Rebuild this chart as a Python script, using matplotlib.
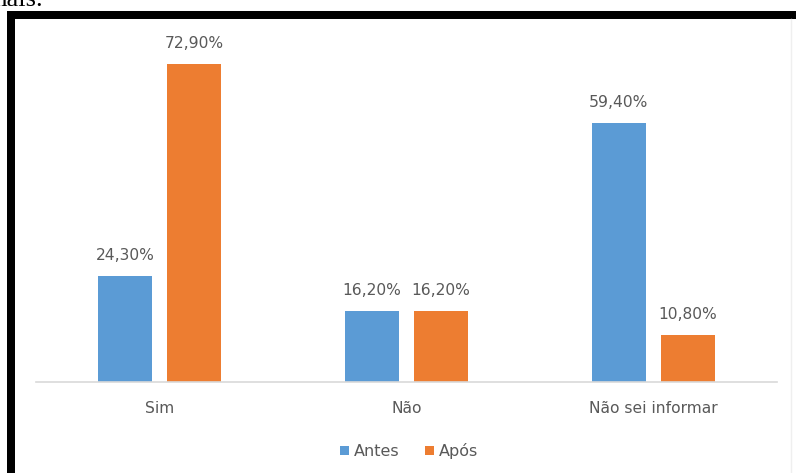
import matplotlib
matplotlib.use("Agg")
import matplotlib.pyplot as plt
from matplotlib.patches import Rectangle
import numpy as np

categories = ["Sim", "Não", "Não sei informar"]
antes = [24.3, 16.2, 59.4]
apos = [72.9, 16.2, 10.8]
series_names = ["Antes", "Após"]

BLUE = "#5B9BD5"
ORANGE = "#ED7D31"
TEXT = "#595959"

W, H = 796, 473
fig = plt.figure(figsize=(W / 100, H / 100), dpi=100)
fig.patch.set_facecolor("white")

# plot area in pixel terms
ax_left, ax_right = 36, 777
ax_bottom = 382
scale = 318 / 72.9  # px per percent
ymax = 80
ax_height = ymax * scale
ax = fig.add_axes([ax_left / W, 1 - ax_bottom / H, (ax_right - ax_left) / W, ax_height / H])

x = np.arange(len(categories))
off, bw = 0.14, 0.22
b1 = ax.bar(x - off, antes, width=bw, color=BLUE, label=series_names[0])
b2 = ax.bar(x + off, apos, width=bw, color=ORANGE, label=series_names[1])

ax.set_xlim(-0.5, len(categories) - 0.5)
ax.set_ylim(0, ymax)

for bars, vals in ((b1, antes), (b2, apos)):
    for rect, v in zip(bars, vals):
        ax.annotate(f"{v:.2f}%".replace(".", ","),
                    (rect.get_x() + rect.get_width() / 2, v),
                    xytext=(0, 11.5), textcoords="offset points",
                    ha="center", va="baseline", fontsize=11.2,
                    color=TEXT, family="DejaVu Sans")

ax.set_xticks(x)
ax.set_xticklabels(categories, fontsize=11.2, color=TEXT, family="DejaVu Sans")
ax.tick_params(axis="x", length=0, pad=13.5)
ax.set_yticks([])
for s in ("top", "right", "left"):
    ax.spines[s].set_visible(False)
ax.spines["bottom"].set_color("#D9D9D9")
ax.spines["bottom"].set_linewidth(1.2)

leg = fig.legend(handles=[b1, b2], loc="center",
                 bbox_to_anchor=(409 / W, 1 - 451 / H), ncol=2, frameon=False,
                 handlelength=0.55, handleheight=0.55, handletextpad=0.3,
                 columnspacing=1.6, prop={"family": "DejaVu Sans", "size": 11.5})
for t in leg.get_texts():
    t.set_color(TEXT)

# black frame on top and left
fig.add_artist(Rectangle((7 / W, 0), 8 / W, 1 - 11 / H, transform=fig.transFigure,
                         facecolor="black", edgecolor="none"))
fig.add_artist(Rectangle((7 / W, 1 - 19 / H), 1 - 7 / W, 8 / H, transform=fig.transFigure,
                         facecolor="black", edgecolor="none"))
fig.add_artist(plt.Line2D([791 / W, 791 / W], [0, 1 - 19 / H], transform=fig.transFigure,
                          color="#EFEFEF", linewidth=1))

# tail of the preceding sentence
fig.text(-14 / W, 1 - 6 / H, "mais.", fontsize=19, family="Liberation Serif",
         color="black", ha="left", va="baseline")

fig.savefig("out.png", dpi=100, facecolor="white")
